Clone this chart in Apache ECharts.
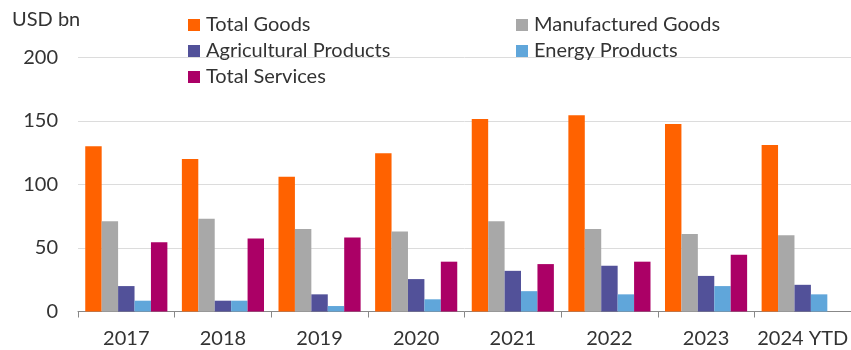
<!DOCTYPE html>
<html>
<head>
<meta charset="utf-8">
<script src="https://cdn.jsdelivr.net/npm/echarts@6/dist/echarts.min.js"></script>
<style>html,body{margin:0;padding:0;background:#fff}#c{width:851px;height:350px}</style>
</head>
<body>
<div id="c"></div>
<script>
const categories = ['2017','2018','2019','2020','2021','2022','2023','2024 YTD'];
const totalGoods = [130, 120, 106, 124.5, 151.5, 154.5, 147.5, 131];
const manufacturedGoods = [71, 73, 65, 63, 71, 65, 61, 60];
const agriculturalProducts = [20, 8.5, 13.5, 25.5, 32, 36, 28, 21];
const energyProducts = [8.5, 8.5, 4.3, 9.6, 16, 13.5, 20, 13.5];
const totalServices = [54.5, 57.5, 58.3, 39.2, 37.3, 39.2, 44.7, null];
const yTicks = [0, 50, 100, 150, 200];

const font = 'Lato';
const txt = '#333';
const chart = echarts.init(document.getElementById('c'));
const mk = (name, data, color) => ({
  name, type: 'bar', data, barGap: '0%', barCategoryGap: '15%',
  itemStyle: { color }, emphasis: { disabled: true }
});
const legendText = { fontFamily: font, fontSize: 20, color: txt, padding: [0,0,0,1], lineHeight: 20 };
chart.setOption({
  animation: false,
  title: { text: 'USD bn', left: 12, top: 10, padding: 0, textStyle: { fontFamily: font, fontSize: 20, fontWeight: 'normal', color: txt } },
  legend: [
    { orient: 'vertical', left: 188, top: 15, padding: 0, itemWidth: 12, itemHeight: 12, itemGap: 6, icon: 'rect',
      textStyle: legendText, data: ['Total Goods', 'Agricultural Products', 'Total Services'] },
    { orient: 'vertical', left: 516, top: 15, padding: 0, itemWidth: 12, itemHeight: 12, itemGap: 6, icon: 'rect',
      textStyle: legendText, data: ['Manufactured Goods', 'Energy Products'] }
  ],
  grid: { left: 78, top: 57.3, width: 781, height: 254.2, containLabel: false },
  xAxis: {
    type: 'category', data: categories, boundaryGap: true,
    axisLine: { lineStyle: { color: '#888', width: 1 } },
    axisTick: { show: true, interval: 0, length: 6, lineStyle: { color: '#888' } },
    axisLabel: { interval: 0, fontFamily: font, fontSize: 20, color: txt, margin: 17 }
  },
  yAxis: {
    type: 'value', min: yTicks[0], max: yTicks[yTicks.length-1], interval: 50,
    axisLine: { show: false }, axisTick: { show: false },
    splitLine: { lineStyle: { color: '#dcdcdc', width: 1 } },
    axisLabel: { fontFamily: font, fontSize: 20, color: txt, margin: 20 }
  },
  series: [
    mk('Total Goods', totalGoods, '#FF6200'),
    mk('Manufactured Goods', manufacturedGoods, '#A8A8A8'),
    mk('Agricultural Products', agriculturalProducts, '#525199'),
    mk('Energy Products', energyProducts, '#60A6DA'),
    mk('Total Services', totalServices, '#AB0066')
  ]
});
</script>
</body>
</html>
